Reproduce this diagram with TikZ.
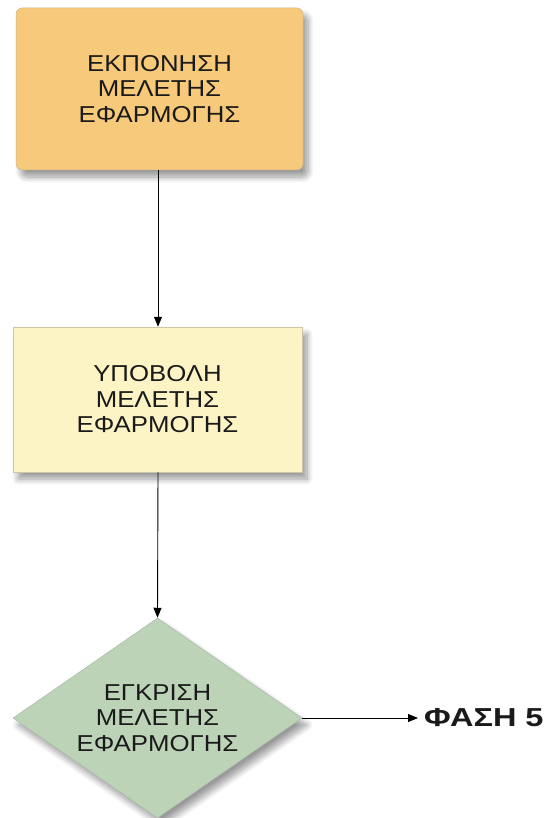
\documentclass[tikz,border=0pt]{standalone}
\usepackage{fontspec}
\setmainfont{Liberation Sans}
\newfontfamily\boxfont[FakeStretch=1.12]{Liberation Sans}
\newfontfamily\phasefont[FakeStretch=1.25]{Liberation Sans}
\usetikzlibrary{shapes.geometric,arrows.meta,shadows.blur}
\definecolor{boxorange}{HTML}{F6C97B}
\definecolor{boxyellow}{HTML}{FDF4C6}
\definecolor{boxgreen}{HTML}{BCD3B8}
\definecolor{txt}{HTML}{1A1A1A}
\begin{document}
\begin{tikzpicture}[x=1pt,y=-1pt,
  lbl/.style={align=center,text=txt,font=\boxfont\fontsize{23}{25.5}\selectfont},
  soft/.style={blur shadow={shadow xshift=5pt,shadow yshift=-7pt,shadow blur steps=10,shadow blur radius=6pt,shadow opacity=40}},
  conn/.style={draw=black,line width=0.9pt,-{Triangle[length=10pt,width=8pt]}}]
\useasboundingbox (0,0) rectangle (549,818);
\node[lbl,soft,draw=boxorange!75!black!70,line width=0.5pt,fill=boxorange,rounded corners=6pt,minimum width=287pt,minimum height=162pt,inner sep=0] (a) at (159.5,89) {ΕΚΠΟΝΗΣΗ\\ΜΕΛΕΤΗΣ\\ΕΦΑΡΜΟΓΗΣ};
\node[lbl,soft,draw=boxyellow!60!gray,line width=0.5pt,fill=boxyellow,minimum width=289pt,minimum height=145pt,inner sep=0] (b) at (157.5,399.5) {ΥΠΟΒΟΛΗ\\ΜΕΛΕΤΗΣ\\ΕΦΑΡΜΟΓΗΣ};
\node[lbl,soft,diamond,aspect=1.45,draw=boxgreen!70!gray,line width=0.5pt,fill=boxgreen,minimum width=289pt,minimum height=200pt,inner sep=0] (c) at (157.5,718) {ΕΓΚΡΙΣΗ\\ΜΕΛΕΤΗΣ\\ΕΦΑΡΜΟΓΗΣ};
\node[anchor=west,text=txt,font=\phasefont\bfseries\fontsize{26}{30}\selectfont,inner sep=0] (d) at (424,718) {ΦΑΣΗ 5};
\draw[conn] (a.south -| 158,0) -- (b.north -| 158,0);
\draw[conn] (b.south -| 158,0) -- (c.north);
\draw[conn] (c.east) -- ([xshift=-6pt]d.west);
\end{tikzpicture}
\end{document}
